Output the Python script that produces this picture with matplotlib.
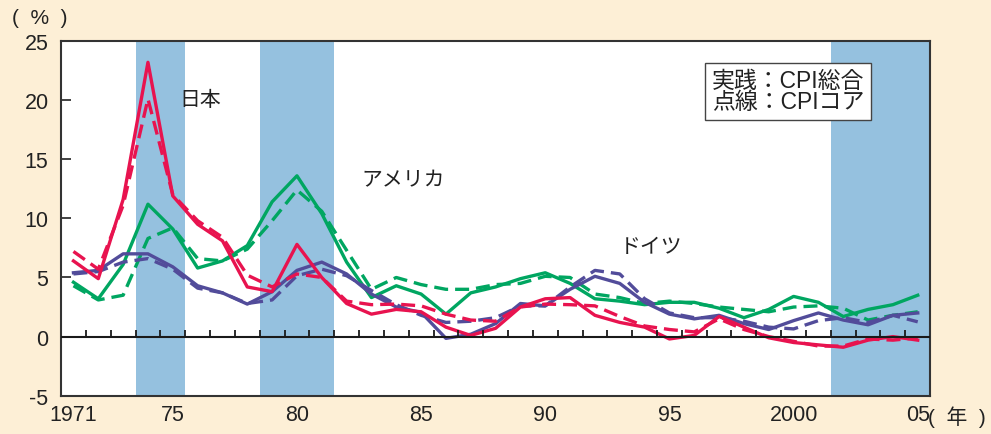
import matplotlib
matplotlib.use("Agg")
import matplotlib.pyplot as plt
import numpy as np

plt.rcParams['font.family'] = ['Liberation Sans', 'Noto Sans CJK JP', 'DejaVu Sans']

years = list(range(1971, 2006))

japan_cpi = [6.4, 4.9, 11.6, 23.2, 11.9, 9.5, 8.1, 4.2, 3.8, 7.8, 5.0, 2.8, 1.9, 2.3, 2.1,
             0.8, 0.1, 0.7, 2.5, 3.2, 3.3, 1.8, 1.2, 0.8, -0.2, 0.1, 1.7, 0.8, -0.1, -0.5,
             -0.7, -0.9, -0.3, 0.0, -0.3]
japan_core = [7.2, 5.7, 11.1, 20.1, 12.0, 9.8, 8.4, 5.2, 4.2, 5.3, 5.0, 3.0, 2.7, 2.75, 2.6,
              1.9, 1.4, 1.3, 2.5, 2.75, 2.7, 2.6, 1.7, 0.9, 0.6, 0.4, 1.5, 0.6, 0.0, -0.4,
              -0.8, -0.8, -0.2, -0.3, -0.1]
us_cpi = [4.6, 3.2, 6.1, 11.2, 9.1, 5.8, 6.4, 7.7, 11.4, 13.6, 10.4, 6.3, 3.3, 4.3, 3.6,
          1.9, 3.7, 4.2, 4.9, 5.4, 4.5, 3.2, 3.0, 2.7, 2.9, 2.9, 2.4, 1.6, 2.3, 3.4,
          2.9, 1.7, 2.3, 2.7, 3.5]
us_core = [4.3, 3.1, 3.5, 8.3, 9.2, 6.6, 6.4, 7.4, 9.8, 12.4, 10.6, 7.3, 4.0, 5.0, 4.4,
           4.0, 4.0, 4.4, 4.5, 5.1, 5.0, 3.6, 3.3, 2.8, 3.0, 2.8, 2.5, 2.3, 2.1, 2.5,
           2.6, 2.4, 1.4, 1.8, 2.1]
de_cpi = [5.4, 5.6, 7.0, 7.0, 5.9, 4.3, 3.7, 2.75, 3.8, 5.6, 6.3, 5.3, 3.6, 2.5, 2.05,
          -0.15, 0.2, 1.1, 2.8, 2.6, 4.0, 5.1, 4.5, 2.9, 1.9, 1.5, 1.8, 1.1, 0.6, 1.35,
          2.0, 1.4, 1.0, 1.8, 2.0]
de_core = [5.3, 5.5, 6.3, 6.6, 5.7, 4.1, 3.7, 2.8, 3.1, 5.15, 5.7, 5.15, 3.9, 2.7, 1.8,
           1.2, 1.3, 1.6, 2.6, 2.6, 4.2, 5.6, 5.3, 3.2, 2.0, 1.6, 1.6, 1.3, 0.8, 0.65,
           1.35, 1.6, 1.2, 1.8, 1.25]

shade_periods = [(1974, 1975), (1979, 1981), (2002, 2005)]
xtick_years = [1971, 1975, 1980, 1985, 1990, 1995, 2000, 2005]
xtick_labels = ['1971', '75', '80', '85', '90', '95', '2000', '05']
yticks = [-5, 0, 5, 10, 15, 20, 25]

c_jp = '#E8134F'
c_us = '#00A661'
c_de = '#524C9A'
bg = '#FDEFD6'
shade = '#95C1DF'
tc = '#222222'

fig = plt.figure(figsize=(9.91, 4.35), dpi=100, facecolor=bg)
ax = fig.add_axes([0.0616, 0.088, 0.877, 0.8154])
ax.set_facecolor('white')

for a, b in shade_periods:
    ax.axvspan(a - 0.5, b + 0.5, color=shade, lw=0, zorder=0)

lw = 2.4
dash = (0, (4.2, 2.1))
ax.plot(years, us_cpi, color=c_us, lw=lw, zorder=3)
ax.plot(years, us_core, color=c_us, lw=lw, ls=dash, zorder=3)
ax.plot(years, de_cpi, color=c_de, lw=lw, zorder=4)
ax.plot(years, de_core, color=c_de, lw=lw, ls=dash, zorder=4)
ax.plot(years, japan_cpi, color=c_jp, lw=lw, zorder=5)
ax.plot(years, japan_core, color=c_jp, lw=lw, ls=dash, zorder=5)

ax.set_xlim(years[0] - 0.5, years[-1] + 0.5)
ax.set_ylim(-5, 25)

# zero line with year-boundary ticks
ax.axhline(0, color='#1a1a1a', lw=1.5, zorder=6)
bounds = np.arange(years[0] + 0.5, years[-1] + 0.5, 1.0)
ax.vlines(bounds, 0, 0.55, color='#1a1a1a', lw=1.3, zorder=6)

ax.set_xticks(xtick_years)
ax.set_xticklabels(xtick_labels, fontsize=15.5, color=tc)
ax.tick_params(axis='x', length=0, pad=6)
ax.set_yticks(yticks)
ax.set_yticklabels([str(v) for v in yticks], fontsize=15.5, color=tc)
ax.tick_params(axis='y', direction='in', length=7, width=1.3, color='#333333', pad=9)

for s in ax.spines.values():
    s.set_color('#333333')
    s.set_linewidth(1.5)

ax.text(1976.1, 20.1, '日本', fontsize=15, ha='center', va='center', color=tc, zorder=7)
ax.text(1982.6, 13.3, 'アメリカ', fontsize=15, ha='left', va='center', color=tc, zorder=7)
ax.text(1993.0, 7.6, 'ドイツ', fontsize=15, ha='left', va='center', color=tc, zorder=7)

ax.text(0.749, 0.858, '実践：CPI総合\n点線：CPIコア', transform=ax.transAxes, fontsize=16.5,
        ha='left', va='center', linespacing=0.88, color=tc, zorder=8,
        bbox=dict(boxstyle='square,pad=0.3', facecolor='white', edgecolor='#444444', lw=1.0))

fig.text(0.012, 0.958, '(  %  )', fontsize=15, ha='left', va='center', color=tc)
fig.text(0.936, 0.04, '(  年  )', fontsize=15, ha='left', va='center', color=tc)

fig.savefig('out.png', dpi=100, facecolor=bg)
